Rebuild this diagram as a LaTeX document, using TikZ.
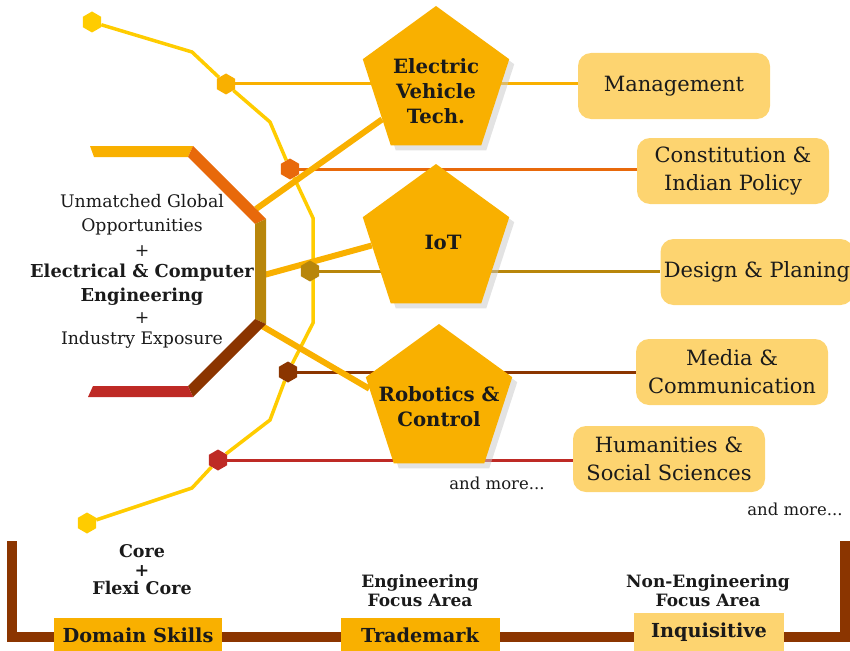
\documentclass[tikz,border=0pt]{standalone}
\usepackage{fontspec}
\setmainfont{DejaVu Serif}
\usetikzlibrary{shapes.geometric,shadows}

\definecolor{giallo}{HTML}{FFCC00}
\definecolor{ambra}{HTML}{F9B000}
\definecolor{arancio}{HTML}{E8690B}
\definecolor{oro}{HTML}{B8860B}
\definecolor{marrone}{HTML}{8B3500}
\definecolor{rosso}{HTML}{BE2A25}
\definecolor{crema}{HTML}{FDD470}
\definecolor{testo}{HTML}{1A1A1A}

\pgfdeclarelayer{sotto}
\pgfsetlayers{sotto,main}

\tikzset{
  esagono/.style={regular polygon, regular polygon sides=6, shape border rotate=30,
    minimum size=21pt, inner sep=0pt, fill=#1},
  pentagono/.style={regular polygon, regular polygon sides=5, minimum size=154pt,
    inner sep=0pt, fill=ambra, drop shadow={shadow xshift=5pt, shadow yshift=-5pt, fill=black!22}},
  pentatesto/.style={align=center, text=testo, font=\bfseries\fontsize{19.7}{25}\selectfont},
  scatola/.style={rounded corners=13pt, fill=crema, minimum width=192pt, minimum height=66pt,
    align=center, text=testo, font=\fontsize{21}{28}\selectfont},
  etichetta/.style={minimum height=34pt, text=testo, font=\bfseries\fontsize{19.3}{20}\selectfont},
  basso/.style={align=center, text=testo, font=\bfseries\fontsize{17}{19}\selectfont},
  sinistra/.style={align=center, text=testo, font=\fontsize{17.3}{24}\selectfont},
  altro/.style={text=testo, font=\fontsize{16.5}{18}\selectfont},
  binario/.style={line width=3pt},
  ramo/.style={ambra, line width=6pt}
}

\begin{document}
\begin{tikzpicture}[x=1pt,y=-1pt]
  \useasboundingbox (0,0) rectangle (850,650); % cornice

  % pentagoni delle aree
  \node[pentagono] (ev) at (436,83) {};
  \node[pentagono] (iot) at (436,241) {};
  \node[pentagono] (rob) at (439,401) {};
  \node[pentatesto] (evtesto) at (436,91) {Electric\\Vehicle\\Tech.};
  \node[pentatesto] (iottesto) at (443,242) {IoT};
  \node[pentatesto] (robtesto) at (439,407) {Robotics \&\\Control};

  % scatole non ingegneristiche
  \node[scatola] (mgmt) at (674,86) {Management};
  \node[scatola] (cost) at (733,171) {Constitution \&\\Indian Policy};
  \node[scatola] (design) at (757,272) {Design \& Planing};
  \node[scatola] (media) at (732,372) {Media \&\\Communication};
  \node[scatola] (uman) at (669,459) {Humanities \&\\Social Sciences};
  \node[altro] (altro1) at (497,483) {and more...};
  \node[altro] (altro2) at (795,509) {and more...};

  % fermate esagonali
  \node[esagono=giallo] (h1) at (92,22) {};
  \node[esagono=ambra] (h2) at (226,84) {};
  \node[esagono=arancio] (h3) at (290,169) {};
  \node[esagono=oro] (h4) at (310,271) {};
  \node[esagono=marrone] (h5) at (288,372) {};
  \node[esagono=rosso] (h6) at (218,460) {};
  \node[esagono=giallo] (h7) at (87,523) {};

  % testo a sinistra
  \node[sinistra] (globale) at (142,215) {Unmatched Global\\Opportunities};
  \node[sinistra] (piu1) at (142,251) {+};
  \node[sinistra, font=\bfseries\fontsize{17.8}{24}\selectfont] (ece) at (142,285) {Electrical \& Computer\\Engineering};
  \node[sinistra] (piu2) at (142,318) {+};
  \node[sinistra] (industria) at (142,340) {Industry Exposure};

  % fascia in basso
  \node[basso, font=\bfseries\fontsize{17.5}{18.5}\selectfont] (core) at (142,570) {Core\\+\\Flexi Core};
  \node[basso] (engfa) at (420,591) {Engineering\\Focus Area};
  \node[basso] (nonfa) at (708,591) {Non-Engineering\\Focus Area};
  \node[etichetta, fill=ambra, minimum width=168pt] (domain) at (138,635) {Domain Skills};
  \node[etichetta, fill=ambra, minimum width=159pt] (trade) at (420,635) {Trademark};
  \node[etichetta, fill=crema, minimum width=150pt, minimum height=38pt] (inq) at (709,632) {Inquisitive};

  \coordinate (evradice) at (256,209); % attacco sul binario arancio
  \coordinate (iotradice) at (264,275); % attacco sul binario oro
  \coordinate (robradice) at (262,326); % attacco sul gomito

  \begin{pgfonlayer}{sotto}
    \draw[marrone, line width=10pt] (12,541) -- (12,637) -- (845,637) -- (845,541); % parentesi in basso
    \draw[binario, ambra] (h2) -- (h2 -| mgmt.west);
    \draw[binario, arancio] (h3) -- (h3 -| cost.west);
    \draw[binario, oro] (h4) -- (h4 -| design.west);
    \draw[binario, marrone] (h5) -- (h5 -| media.west);
    \draw[binario, rosso] (h6) -- (h6 -| uman.west);
    \draw[binario, giallo, line width=3.5pt] (h1) -- (192,52) -- (h2) -- (270,122) -- (h3) -- (313,218)
      -- (313,323) -- (h5) -- (270,420) -- (h6) -- (192,488) -- (h7); % linea gialla
    \draw[ramo] (evradice) -- (ev.214);
    \draw[ramo] (iotradice) -- (iot.184);
    \draw[ramo] (robradice) -- (rob.170);
    \fill[ambra] (90,146) -- (193,146) -- (188,157) -- (94,157) -- cycle; % tratto superiore
    \fill[arancio] (193,146) -- (266,219) -- (255,224) -- (188,157) -- cycle;
    \fill[oro] (255,224) -- (266,219) -- (266,324) -- (255,319) -- cycle;
    \fill[marrone] (255,319) -- (266,324) -- (193,397) -- (188,386) -- cycle;
    \fill[rosso] (93,386) -- (188,386) -- (193,397) -- (88,397) -- cycle; % tratto inferiore
  \end{pgfonlayer}
\end{tikzpicture}
\end{document}
